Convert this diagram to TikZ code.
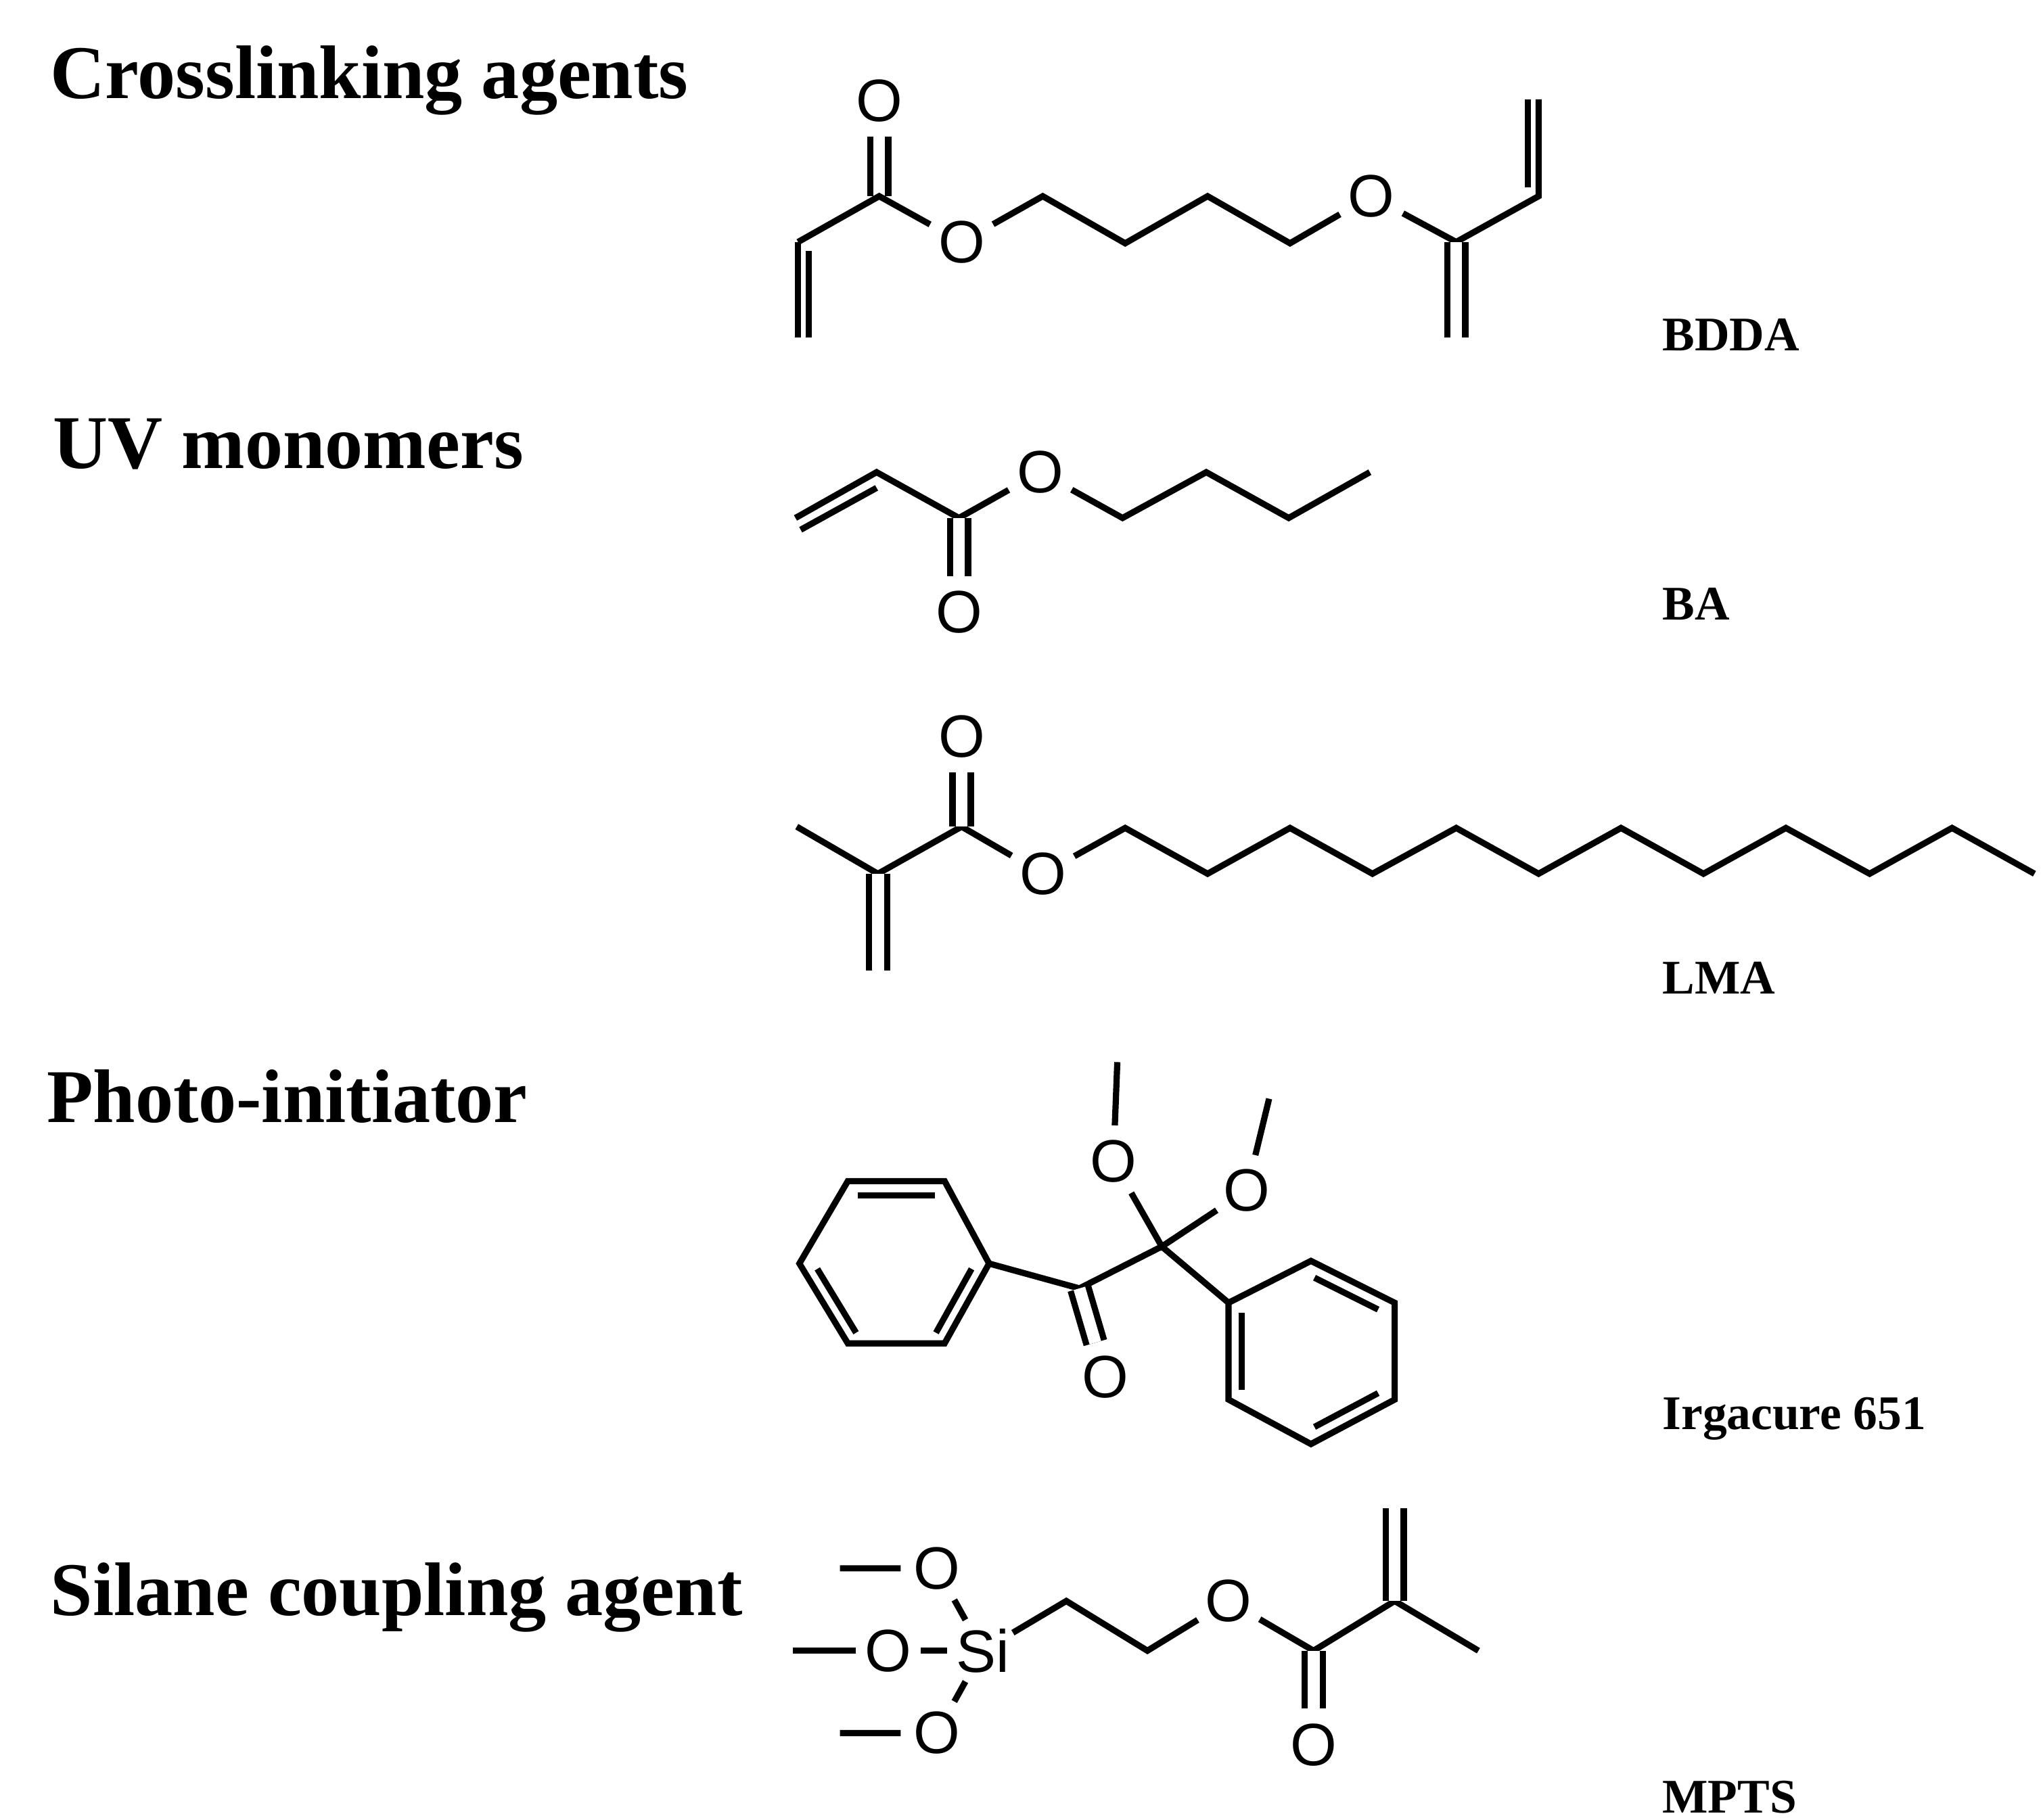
\documentclass[tikz,border=0pt]{standalone}
\usepackage{fontspec}
\setmainfont{Liberation Serif}
\newfontfamily\atomfont{Liberation Sans}
\usetikzlibrary{calc}
\begin{document}
\begin{tikzpicture}[x=0.01cm,y=-0.01cm,
  bond/.style={line width=1.35pt},
  dbl/.style={line width=1.35pt,double,double distance=2.6pt},
  atom/.style={inner sep=0.6pt,circle,font=\atomfont\fontsize{13}{14}\selectfont},
  title/.style={anchor=base west,inner sep=0,font=\bfseries\fontsize{16.5}{18}\selectfont},
  lab/.style={anchor=base west,inner sep=0,font=\bfseries\fontsize{10.5}{12}\selectfont}]
\useasboundingbox (0,0) rectangle (1560,1391);
% titles
\node[title] (t1) at (38,75) {Crosslinking agents};
\node[title] (t2) at (40,358) {UV monomers};
\node[title] (t3) at (35,858) {Photo-initiator};
\node[title] (t4) at (38,1235) {Silane coupling agent};
\node[lab] (l1) at (1270,268) {BDDA};
\node[lab] (l2) at (1270,474) {BA};
\node[lab] (l3) at (1270,760) {LMA};
\node[lab] (l4) at (1270,1093) {Irgacure 651};
\node[lab] (l5) at (1270,1386) {MPTS};
% ---------- BDDA
\node[atom] (bO1) at (672,77) {O};
\coordinate (bC1) at (672,150);
\coordinate (bV1) at (610,185);
\coordinate (bV2) at (610,258);
\node[atom] (bO2) at (735,185) {O};
\coordinate (b1) at (797,150);
\coordinate (b2) at (860,186);
\coordinate (b3) at (923,150);
\coordinate (b4) at (986,186);
\node[atom] (bO3) at (1048,150) {O};
\coordinate (bC2) at (1113,185);
\coordinate (bV3) at (1113,258);
\coordinate (bC3) at (1176,150);
\coordinate (bV4) at (1176,76);
\draw[dbl] (bC1) -- (bO1);
\draw[bond] (bV1) -- (bC1) -- (bO2) -- (b1) -- (b2) -- (b3) -- (b4) -- (bO3) -- (bC2) -- (bC3) -- (bV4);
\draw[bond] (bV1) -- (bV2);
\draw[bond] ($(bV1)+(8,7)$) -- ($(bV2)+(8,0)$);
\draw[dbl] (bC2) -- (bV3);
\draw[bond] ($(bC3)+(-8,-7)$) -- ($(bV4)+(-8,0)$);
% ---------- BA
\coordinate (a1) at (608,396);
\coordinate (a2) at (670,361);
\coordinate (a3) at (733,396);
\node[atom] (aO1) at (795,361) {O};
\coordinate (a4) at (858,396);
\coordinate (a5) at (922,361);
\coordinate (a6) at (985,396);
\coordinate (a7) at (1047,361);
\node[atom] (aO2) at (733,468) {O};
\draw[bond] (a1) -- (a2) -- (a3) -- (aO1) -- (a4) -- (a5) -- (a6) -- (a7);
\draw[bond] ($(a1)+(4,9)$) -- ($(a2)+(0,12)$);
\draw[dbl] (a3) -- (aO2);
% ---------- LMA
\coordinate (m0) at (609,632);
\coordinate (m1) at (671,668);
\coordinate (m2) at (671,742);
\coordinate (m3) at (735,632);
\node[atom] (mO1) at (735,563) {O};
\node[atom] (mO2) at (797,668) {O};
\draw[bond] (m0) -- (m1) -- (m3) -- (mO2);
\draw[dbl] (m1) -- (m2);
\draw[dbl] (m3) -- (mO1);
\coordinate (c1) at (860,633);
\coordinate (c2) at (923,668);
\coordinate (c3) at (986,633);
\coordinate (c4) at (1049,668);
\coordinate (c5) at (1113,633);
\coordinate (c6) at (1176,668);
\coordinate (c7) at (1239,633);
\coordinate (c8) at (1302,668);
\coordinate (c9) at (1365,633);
\coordinate (c10) at (1429,668);
\coordinate (c11) at (1492,633);
\coordinate (c12) at (1555,668);
\draw[bond] (mO2) -- (c1) -- (c2) -- (c3) -- (c4) -- (c5) -- (c6) -- (c7) -- (c8) -- (c9) -- (c10) -- (c11) -- (c12);
% ---------- Irgacure 651
\coordinate (r1) at (611,966);
\coordinate (r2) at (648,903);
\coordinate (r3) at (722,903);
\coordinate (r4) at (756,966);
\coordinate (r5) at (722,1027);
\coordinate (r6) at (648,1027);
\draw[bond] (r1) -- (r2) -- (r3) -- (r4) -- (r5) -- (r6) -- cycle;
\draw[bond] ($(r2)!0.1!(r3)+(0,11)$) -- ($(r2)!0.9!(r3)+(0,11)$);
\draw[bond] ($(r4)!0.1!(r5)+(-10,-2)$) -- ($(r4)!0.9!(r5)+(-10,-2)$);
\draw[bond] ($(r6)!0.1!(r1)+(10,-2)$) -- ($(r6)!0.9!(r1)+(10,-2)$);
\coordinate (iC1) at (825,985);
\node[atom] (iO1) at (845,1053) {O};
\coordinate (iC2) at (888,953);
\node[atom] (iO2) at (851,888) {O};
\coordinate (iM1) at (854,812);
\node[atom] (iO3) at (953,910) {O};
\coordinate (iM2) at (970,840);
\draw[bond] (r4) -- (iC1) -- (iC2);
\draw[dbl] (iC1) -- (iO1);
\draw[bond] (iM1) -- (iO2) -- (iC2) -- (iO3) -- (iM2);
\coordinate (s1) at (939,996);
\coordinate (s2) at (1002,964);
\coordinate (s3) at (1066,996);
\coordinate (s4) at (1066,1070);
\coordinate (s5) at (1002,1104);
\coordinate (s6) at (939,1070);
\draw[bond] (iC2) -- (s1);
\draw[bond] (s1) -- (s2) -- (s3) -- (s4) -- (s5) -- (s6) -- cycle;
\draw[bond] ($(s2)!0.12!(s3)+(-5,9)$) -- ($(s2)!0.88!(s3)+(-5,9)$);
\draw[bond] ($(s4)!0.12!(s5)+(-5,-9)$) -- ($(s4)!0.88!(s5)+(-5,-9)$);
\draw[bond] ($(s6)!0.1!(s1)+(10,0)$) -- ($(s6)!0.9!(s1)+(10,0)$);
% ---------- MPTS
\node[atom,inner sep=0pt] (Si) at (751,1262) {Si};
\node[atom] (pO1) at (716,1199) {O};
\node[atom,inner sep=0pt] (pO2) at (679,1262) {O};
\node[atom] (pO3) at (716,1325) {O};
\coordinate (pM1) at (642,1199);
\coordinate (pM2) at (606,1262);
\coordinate (pM3) at (642,1325);
\draw[bond] (pM1) -- (pO1) -- (Si) -- (pO3) -- (pM3);
\draw[bond] (pM2) -- (pO2) -- (Si);
\coordinate (p1) at (815,1224);
\coordinate (p2) at (877,1262);
\node[atom] (pO4) at (939,1224) {O};
\coordinate (p3) at (1004,1262);
\node[atom] (pO5) at (1004,1334) {O};
\coordinate (p4) at (1066,1224);
\coordinate (p5) at (1066,1153);
\coordinate (p6) at (1130,1262);
\draw[bond] (Si) -- (p1) -- (p2) -- (pO4) -- (p3) -- (p4) -- (p6);
\draw[dbl] (p3) -- (pO5);
\draw[dbl] (p4) -- (p5);
\end{tikzpicture}
\end{document}
